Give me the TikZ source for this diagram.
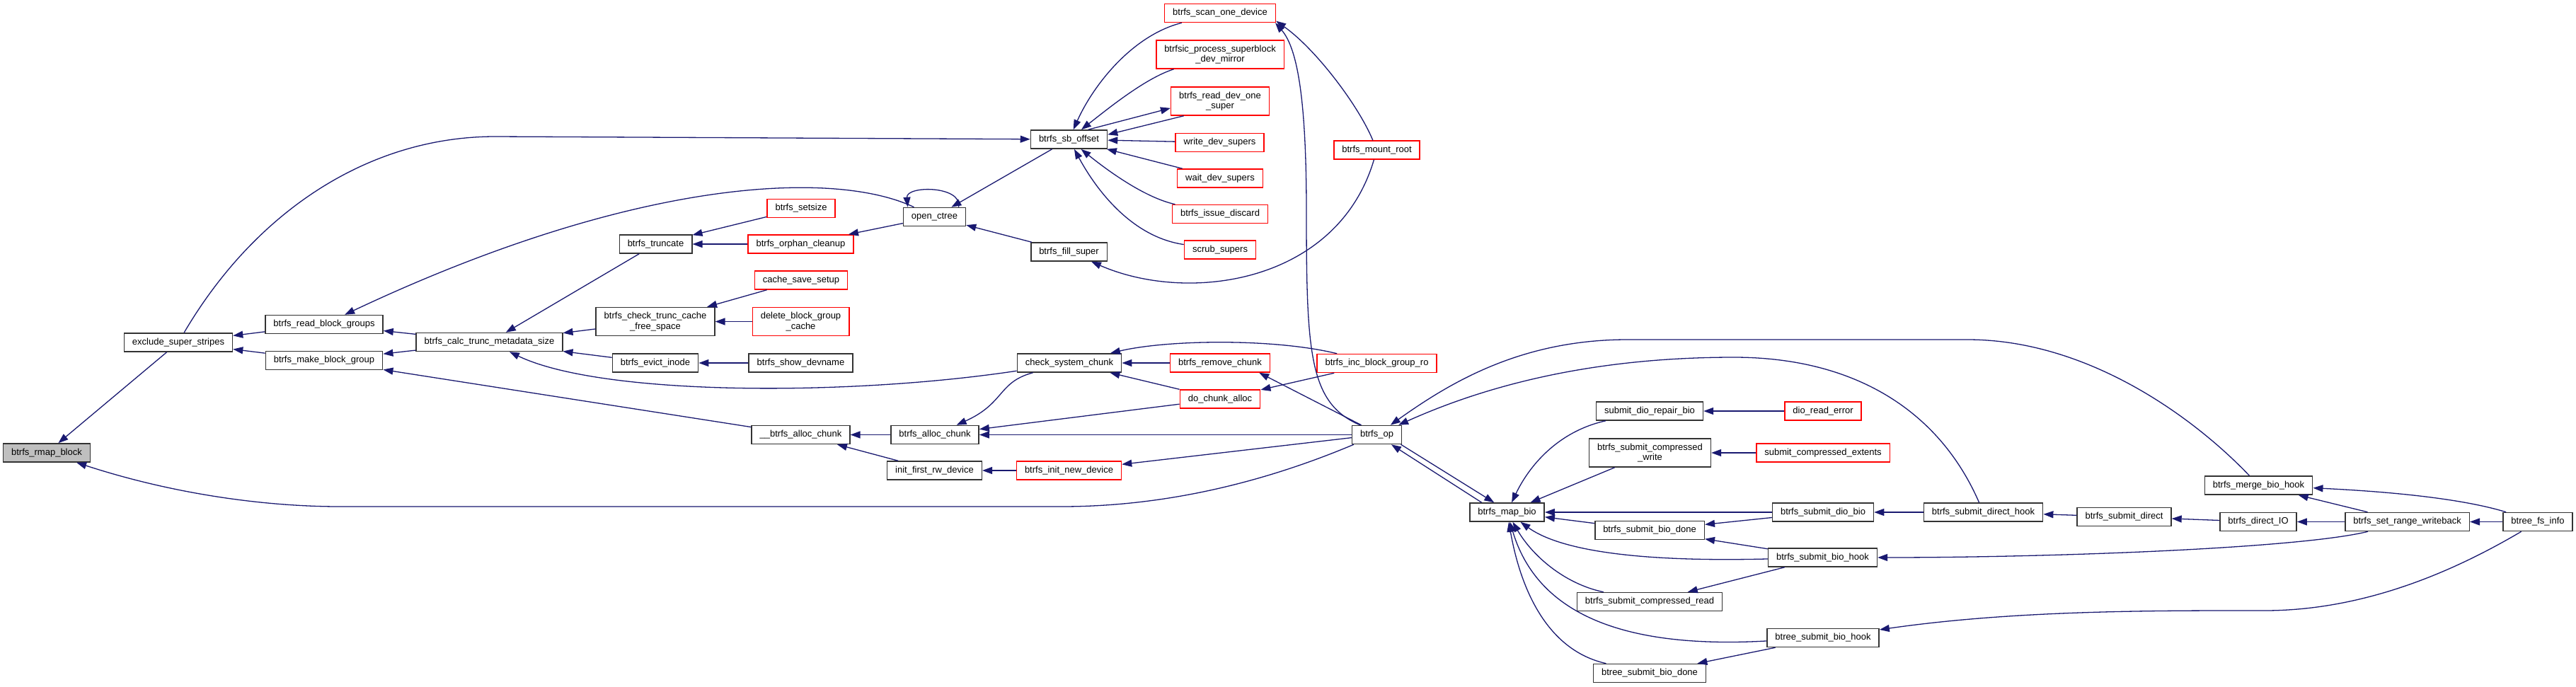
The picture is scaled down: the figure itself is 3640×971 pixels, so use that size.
\documentclass[tikz,border=0pt]{standalone}
\usepackage{fontspec}
\setmainfont{Liberation Sans}
\usetikzlibrary{arrows.meta}
\definecolor{edgeblue}{HTML}{191970}
\definecolor{boxgray}{HTML}{BFBFBF}
\definecolor{boxred}{HTML}{FF0000}

\begin{document}
\begin{tikzpicture}[x=1pt,y=-1pt,
  fn/.style={draw=black!80,line width=1.5pt,fill=white,inner xsep=11.5pt,inner ysep=2pt,
    minimum height=26pt,align=center,font=\fontsize{13}{14.5}\selectfont},
  trunc/.style={fn,draw=boxred},
  self/.style={fn,fill=boxgray},
  twoline/.style={minimum height=40pt},
  call/.style={draw=edgeblue,line width=1.3pt,arrows={Triangle[length=14pt,width=10pt]-}}]
\useasboundingbox (0,0) rectangle (3640,971);

\node[self] (rmap) at (66,640) {btrfs\_rmap\_block};
\node[fn] (exclude) at (252,484) {exclude\_super\_stripes};
\node[fn] (readbg) at (458,458.5) {btrfs\_read\_block\_groups};
\node[fn] (makebg) at (458,509.5) {btrfs\_make\_block\_group};
\node[fn] (calc) at (691.5,483.5) {btrfs\_calc\_trunc\_metadata\_size};

\node[fn] (truncate) at (926.5,345) {btrfs\_truncate};
\node[fn,twoline] (checktrunc) at (926,454.5) {btrfs\_check\_trunc\_cache\\\_free\_space};
\node[fn] (evict) at (926,513) {btrfs\_evict\_inode};
\node[trunc] (setsize) at (1132,294.5) {btrfs\_setsize};
\node[trunc] (orphan) at (1131.5,345) {btrfs\_orphan\_cleanup};
\node[trunc] (cachesave) at (1132,396) {cache\_save\_setup};
\node[trunc,twoline] (delbgc) at (1131.5,454.5) {delete\_block\_group\\\_cache};
\node[fn] (showdev) at (1131.5,513) {btrfs\_show\_devname};
\node[fn] (allocint) at (1131.5,614.5) {\_\_btrfs\_alloc\_chunk};

\node[fn] (opentree) at (1320.5,306.5) {open\_ctree};
\node[fn] (allocchunk) at (1321,614.5) {btrfs\_alloc\_chunk};
\node[fn] (initfirst) at (1320.5,665) {init\_first\_rw\_device};
\node[fn] (sboffset) at (1510.5,197) {btrfs\_sb\_offset};
\node[fn] (fillsuper) at (1510.5,356) {btrfs\_fill\_super};
\node[fn] (checksys) at (1511,513) {check\_system\_chunk};
\node[trunc] (initnew) at (1510.5,665) {btrfs\_init\_new\_device};

\node[trunc] (scan) at (1724,18.5) {btrfs\_scan\_one\_device};
\node[trunc,twoline] (btrfsic) at (1724,77) {btrfsic\_process\_superblock\\\_dev\_mirror};
\node[trunc,twoline] (readdev) at (1724,143) {btrfs\_read\_dev\_one\\\_super};
\node[trunc] (writedev) at (1723.5,201.5) {write\_dev\_supers};
\node[trunc] (waitdev) at (1724,252) {wait\_dev\_supers};
\node[trunc] (discard) at (1724,302.5) {btrfs\_issue\_discard};
\node[trunc] (scrub) at (1724,353) {scrub\_supers};
\node[trunc] (removechunk) at (1724,513) {btrfs\_remove\_chunk};
\node[trunc] (dochunk) at (1724,564) {do\_chunk\_alloc};

\node[trunc] (mountroot) at (1945.5,212) {btrfs\_mount\_root};
\node[trunc] (incro) at (1945.5,513.5) {btrfs\_inc\_block\_group\_ro};
\node[fn] (op) at (1945.5,614.5) {btrfs\_op};
\node[fn] (mapbio) at (2129.5,724) {btrfs\_map\_bio};

\node[fn] (repair) at (2331,581) {submit\_dio\_repair\_bio};
\node[fn,twoline] (cwrite) at (2331.5,640) {btrfs\_submit\_compressed\\\_write};
\node[fn] (biodone) at (2331,749.5) {btrfs\_submit\_bio\_done};
\node[fn] (cread) at (2331,850.5) {btrfs\_submit\_compressed\_read};
\node[fn] (btreedone) at (2331,951.5) {btree\_submit\_bio\_done};

\node[trunc] (dioerr) at (2576,581) {dio\_read\_error};
\node[trunc] (cextents) at (2576,640) {submit\_compressed\_extents};
\node[fn] (diobio) at (2576,724) {btrfs\_submit\_dio\_bio};
\node[fn] (biohook) at (2575.5,788) {btrfs\_submit\_bio\_hook};
\node[fn] (btreehook) at (2576,901.5) {btree\_submit\_bio\_hook};

\node[fn] (directhook) at (2802.5,724) {btrfs\_submit\_direct\_hook};
\node[fn] (submitdirect) at (3001.5,730.5) {btrfs\_submit\_direct};
\node[fn] (merge) at (3191.5,686) {btrfs\_merge\_bio\_hook};
\node[fn] (directio) at (3191,737.5) {btrfs\_direct\_IO};
\node[fn] (setrange) at (3401.5,737.5) {btrfs\_set\_range\_writeback};
\node[fn] (fsinfo) at (3586,737.5) {btree\_fs\_info};

\draw[call] (rmap) -- (exclude);
\draw[call] (rmap) .. controls (250,700) and (380,716) .. (480,716) -- (1500,716) .. controls (1650,716) and (1790,680) .. (op);
\draw[call] (exclude) -- (readbg);
\draw[call] (exclude) -- (makebg);
\draw[call] (readbg) -- (calc);
\draw[call] (makebg) -- (calc);
\draw[call] (readbg) .. controls (900,250) and (1180,240) .. (opentree);
\draw[call] (sboffset) -- (700,193) .. controls (520,193) and (360,300) .. (exclude);
\draw[call] (makebg) -- (allocint);

\draw[call] (calc) -- (truncate);
\draw[call] (calc) -- (checktrunc);
\draw[call] (calc) -- (evict);
\draw[call] (calc) .. controls (850,560) and (1200,560) .. (checksys);
\draw[call] (truncate) -- (setsize);
\draw[call] (truncate) -- (orphan);
\draw[call] (checktrunc) -- (cachesave);
\draw[call] (checktrunc) -- (delbgc);
\draw[call] (evict) -- (showdev);
\draw[call] (orphan) -- (opentree);
\draw[call] (allocint) -- (allocchunk);
\draw[call] (allocint) -- (initfirst);
\draw[call] (initfirst) -- (initnew);

\draw[call] (opentree.160) .. controls (1280,262) and (1360,262) .. (opentree.22);
\draw[call] (opentree) -- (sboffset);
\draw[call] (opentree) -- (fillsuper);
\draw[call] (allocchunk) .. controls (1420,570) and (1410,540) .. (checksys);
\draw[call] (allocchunk) -- (dochunk);
\draw[call] (allocchunk) -- (op);
\draw[call] (initnew) -- (op);

\draw[call] (sboffset) .. controls (1545,120) and (1600,50) .. (scan);
\draw[call] (sboffset) .. controls (1570,150) and (1620,110) .. (btrfsic);
\draw[call] (readdev.188) -- (sboffset.27);
\draw[call] (sboffset.7) -- (readdev.202);
\draw[call] (sboffset) -- (writedev);
\draw[call] (sboffset) -- (waitdev);
\draw[call] (sboffset) .. controls (1570,245) and (1620,280) .. (discard);
\draw[call] (sboffset) .. controls (1550,270) and (1600,335) .. (scrub);
\draw[call] (fillsuper) .. controls (1680,430) and (1890,400) .. (mountroot);
\draw[call] (checksys) -- (removechunk);
\draw[call] (checksys) -- (dochunk);
\draw[call] (checksys) .. controls (1650,480) and (1800,478) .. (incro);
\draw[call] (removechunk.-14) -- (op.148);
\draw[call] (dochunk) -- (incro);

\draw[call] (scan.-8) .. controls (1860,70) and (1920,150) .. (mountroot);
\draw[call] (scan.-10) .. controls (1835,70) and (1846,150) .. (1846,300) .. controls (1846,500) and (1850,570) .. (op.150);
\draw[call] (op) .. controls (2050,540) and (2150,480) .. (2300,480) -- (2780,480) .. controls (2950,480) and (3100,590) .. (merge);
\draw[call] (op) .. controls (2100,545) and (2250,505) .. (2450,505) .. controls (2620,505) and (2740,580) .. (directhook);
\draw[call] (mapbio.143) -- (op.-22);
\draw[call] (op.-34) -- (mapbio.159);

\draw[call] (mapbio) .. controls (2160,660) and (2200,610) .. (repair);
\draw[call] (mapbio) -- (cwrite);
\draw[call] (mapbio) -- (diobio);
\draw[call] (mapbio) -- (biodone);
\draw[call] (mapbio) .. controls (2200,775) and (2300,795) .. (biohook);
\draw[call] (mapbio) .. controls (2165,785) and (2210,825) .. (cread);
\draw[call] (mapbio) .. controls (2170,860) and (2280,918) .. (btreehook);
\draw[call] (mapbio) .. controls (2150,840) and (2190,920) .. (btreedone);

\draw[call] (repair) -- (dioerr);
\draw[call] (cwrite) -- (cextents);
\draw[call] (biodone) -- (diobio);
\draw[call] (biodone) -- (biohook);
\draw[call] (cread) -- (biohook);
\draw[call] (btreedone) -- (btreehook);
\draw[call] (diobio) -- (directhook);
\draw[call] (directhook) -- (submitdirect);
\draw[call] (submitdirect) -- (directio);
\draw[call] (directio) -- (setrange);
\draw[call] (merge) -- (setrange);
\draw[call] (merge) .. controls (3380,695) and (3480,705) .. (fsinfo);
\draw[call] (setrange) -- (fsinfo);
\draw[call] (biohook) .. controls (2900,788) and (3250,775) .. (setrange);
\draw[call] (btreehook) .. controls (2850,862) and (3050,863) .. (3200,863) .. controls (3350,863) and (3480,800) .. (fsinfo);
\end{tikzpicture}
\end{document}
